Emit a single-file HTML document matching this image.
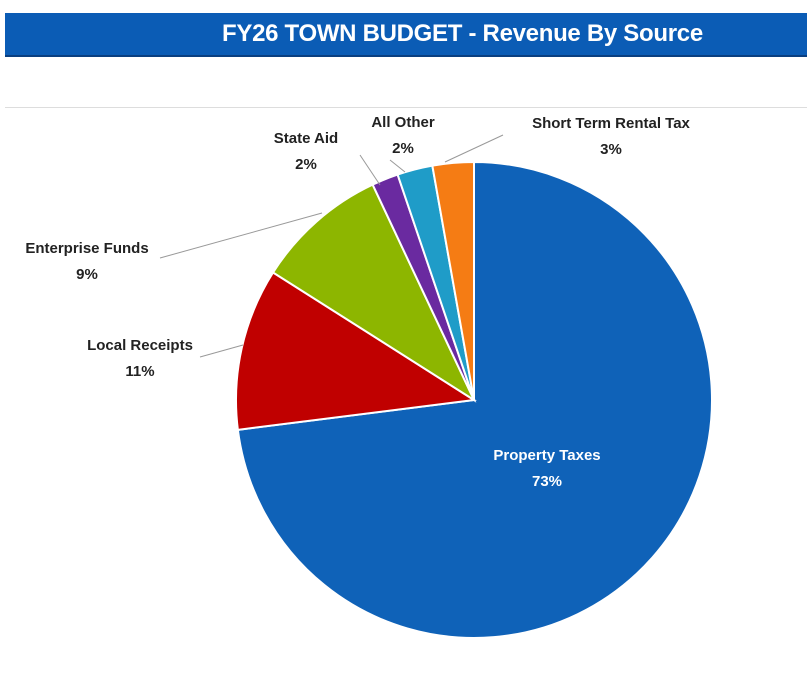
<!DOCTYPE html>
<html><head><meta charset="utf-8"><style>
body{margin:0;width:807px;height:679px;background:#fff;overflow:hidden;font-family:"Liberation Sans",sans-serif}
#bar{position:absolute;left:5px;top:13px;width:802px;height:42px;background:#0b5cb5;border-bottom:2px solid #0a3f80}
#title{position:absolute;left:222px;top:20px;color:#fff;font-weight:bold;font-size:24px;letter-spacing:-0.3px}
#rule{position:absolute;left:5px;top:107px;width:802px;height:1px;background:#ddd}
svg{position:absolute;left:0;top:0}
</style></head><body>
<div id="bar"></div>
<div id="title">FY26 TOWN BUDGET - Revenue By Source</div>
<div id="rule"></div>
<svg id="chart" width="807" height="679"></svg>
<script>
const categories=["Property Taxes","Local Receipts","Enterprise Funds","State Aid","All Other","Short Term Rental Tax"];
const values=[73,11,9,1.8,2.4,2.8];
const pctLabels=["73%","11%","9%","2%","2%","3%"];
const colors=["#0f62b8","#c00000","#8db600","#6a2aa0","#1f9cc8","#f57c14"];
const labelPos=[[547,460,"middle"],[140,350,"middle"],[87,253,"middle"],[306,143,"middle"],[403,127,"middle"],[611,128,"middle"]];
const leaders=[null,[[243,345],[200,357]],[[322,213],[160,258]],[[380,185],[360,155]],[[405,172],[390,160]],[[445,162],[503,135]]];
const NS="http://www.w3.org/2000/svg";
const svg=document.getElementById('chart');
const cx=474,cy=400,r=238;
const total=values.reduce((a,b)=>a+b,0);
function pt(a,rr){return [cx+rr*Math.sin(a),cy-rr*Math.cos(a)];}
let a0=0;
values.forEach((v,i)=>{
  const a1=a0+v/total*2*Math.PI;
  const p0=pt(a0,r),p1=pt(a1,r);
  const large=(a1-a0)>Math.PI?1:0;
  const p=document.createElementNS(NS,'path');
  p.setAttribute('d',`M${cx},${cy}L${p0[0]},${p0[1]}A${r},${r} 0 ${large} 1 ${p1[0]},${p1[1]}Z`);
  p.setAttribute('fill',colors[i]);p.setAttribute('stroke','#fff');p.setAttribute('stroke-width','2');
  
  
  svg.appendChild(p);
  a0=a1;
});
categories.forEach((c,i)=>{
  const [x,y,anc]=labelPos[i];
  if(leaders[i]){
    const l=document.createElementNS(NS,'polyline');
    l.setAttribute('points',leaders[i].map(q=>q.join(',')).join(' '));
    l.setAttribute('fill','none');l.setAttribute('stroke','#999');l.setAttribute('stroke-width','1');
    
    
    svg.appendChild(l);
  }
  const t=document.createElementNS(NS,'text');
  t.setAttribute('x',x);t.setAttribute('y',y);t.setAttribute('text-anchor',anc);
  t.setAttribute('font-size','15');t.setAttribute('font-weight','bold');
  t.setAttribute('fill',i===0?'#fff':'#222');
  
  
  const s1=document.createElementNS(NS,'tspan');s1.setAttribute('x',x);s1.textContent=c;
  const s2=document.createElementNS(NS,'tspan');s2.setAttribute('x',x);s2.setAttribute('dy','26');s2.textContent=pctLabels[i];
  t.appendChild(s1);t.appendChild(s2);svg.appendChild(t);
});
</script>
</body></html>
